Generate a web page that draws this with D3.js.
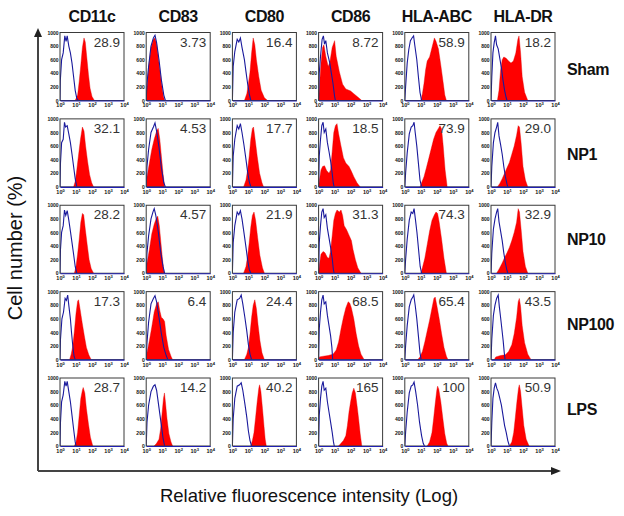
<!DOCTYPE html>
<html><head><meta charset="utf-8">
<script src="https://cdn.jsdelivr.net/npm/d3@7/dist/d3.min.js"></script>
<style>
body{margin:0;background:#fff;}
svg{display:block;font-family:"Liberation Sans",Arial,sans-serif;}
</style></head>
<body><svg id="c" width="624" height="516"></svg>
<script>
const markers = ["CD11c","CD83","CD80","CD86","HLA-ABC","HLA-DR"];
const groups = ["Sham","NP1","NP10","NP100","LPS"];
const mfiLabels = [
  ["28.9","3.73","16.4","8.72","58.9","18.2"],
  ["32.1","4.53","17.7","18.5","73.9","29.0"],
  ["28.2","4.57","21.9","31.3","74.3","32.9"],
  ["17.3","6.4","24.4","68.5","65.4","43.5"],
  ["28.7","14.2","40.2","165","100","50.9"]
];
const xTicks = [0,1,2,3,4];
const yTicks = [0,200,400,600,800,1000];

// histograms: [log10 decade, cell count]
const controlSham = [
 [[0,0],[0.02,300],[0.1,600],[0.2,700],[0.3,950],[0.38,870],[0.45,950],[0.55,800],[0.65,700],[0.75,550],[0.85,350],[0.95,150],[1.05,30],[1.15,0]],
 [[0,0],[0.05,250],[0.15,500],[0.3,800],[0.45,920],[0.55,960],[0.65,850],[0.8,600],[0.95,300],[1.1,80],[1.2,0]],
 [[0,0],[0.05,500],[0.15,720],[0.3,900],[0.4,860],[0.5,920],[0.6,780],[0.75,600],[0.85,420],[0.95,250],[1.05,100],[1.15,0]],
 [[0,0],[0.04,400],[0.12,650],[0.22,900],[0.3,950],[0.37,830],[0.45,880],[0.55,700],[0.7,550],[0.8,400],[0.9,250],[1.0,60],[1.05,0]],
 [[0,0],[0.05,200],[0.15,550],[0.25,750],[0.35,880],[0.45,920],[0.55,950],[0.62,820],[0.75,600],[0.85,350],[0.95,120],[1.05,0]],
 [[0,0],[0.05,350],[0.12,700],[0.2,850],[0.28,950],[0.35,820],[0.45,760],[0.55,620],[0.65,480],[0.75,300],[0.85,150],[0.95,40],[1.0,0]]
];
const stainedSham = [
 [[0.95,0],[1.1,80],[1.2,280],[1.3,520],[1.4,780],[1.5,920],[1.58,860],[1.68,620],[1.78,380],[1.88,180],[2.0,60],[2.15,0]],
 [[0,0],[0.05,200],[0.15,480],[0.3,780],[0.45,900],[0.55,920],[0.65,830],[0.8,560],[0.95,260],[1.08,60],[1.15,0]],
 [[0.75,0],[0.9,100],[1.0,250],[1.1,420],[1.2,700],[1.3,920],[1.4,820],[1.5,600],[1.65,350],[1.8,150],[2.0,40],[2.2,0]],
 [[0,0],[0.05,200],[0.15,550],[0.25,780],[0.33,820],[0.45,650],[0.6,500],[0.7,560],[0.85,780],[1.0,880],[1.1,650],[1.3,420],[1.5,240],[1.7,170],[2.0,140],[2.2,100],[2.45,50],[2.7,0]],
 [[1.0,0],[1.1,100],[1.2,250],[1.3,450],[1.4,580],[1.55,640],[1.7,780],[1.85,920],[1.95,870],[2.1,760],[2.25,520],[2.4,260],[2.5,80],[2.6,0]],
 [[0.4,0],[0.5,150],[0.6,450],[0.7,600],[0.8,640],[0.95,620],[1.1,580],[1.25,550],[1.4,580],[1.55,700],[1.68,900],[1.75,950],[1.85,700],[1.95,350],[2.1,120],[2.3,0]]
];
const controlNP1 = [
 [[0,0],[0.03,350],[0.1,650],[0.2,700],[0.28,950],[0.35,880],[0.45,900],[0.55,780],[0.65,650],[0.75,480],[0.85,300],[0.95,120],[1.05,0]],
 [[0,0],[0.05,300],[0.15,550],[0.3,800],[0.45,880],[0.55,940],[0.65,820],[0.8,580],[0.95,280],[1.1,60],[1.2,0]],
 [[0,0],[0.05,450],[0.15,700],[0.3,900],[0.4,850],[0.5,930],[0.6,800],[0.72,620],[0.85,400],[0.95,220],[1.05,80],[1.15,0]],
 [[0,0],[0.04,450],[0.12,700],[0.2,900],[0.28,950],[0.35,800],[0.45,850],[0.55,650],[0.65,520],[0.75,380],[0.85,200],[0.92,50],[0.97,0]],
 [[0,0],[0.05,200],[0.15,500],[0.28,780],[0.4,880],[0.5,900],[0.58,950],[0.65,800],[0.75,600],[0.85,350],[0.95,100],[1.05,0]],
 [[0,0],[0.05,300],[0.15,650],[0.25,800],[0.35,880],[0.42,950],[0.5,750],[0.6,620],[0.7,480],[0.8,300],[0.9,150],[1.0,40],[1.05,0]]
];
const stainedNP1 = [
 [[0.85,0],[0.95,80],[1.05,250],[1.15,450],[1.28,700],[1.4,880],[1.5,820],[1.6,600],[1.72,380],[1.85,180],[1.98,60],[2.1,0]],
 [[0,0],[0.05,150],[0.2,350],[0.35,550],[0.5,700],[0.65,820],[0.75,860],[0.85,700],[0.95,450],[1.05,200],[1.15,0]],
 [[0.7,0],[0.85,100],[0.95,250],[1.05,450],[1.15,700],[1.25,860],[1.32,880],[1.42,700],[1.55,450],[1.7,200],[1.85,60],[1.95,0]],
 [[0,0],[0.05,100],[0.15,250],[0.25,300],[0.37,310],[0.5,240],[0.65,200],[0.75,250],[0.85,520],[0.95,800],[1.05,900],[1.15,930],[1.25,780],[1.4,600],[1.55,430],[1.7,350],[1.9,300],[2.05,230],[2.2,150],[2.4,60],[2.6,0]],
 [[0.95,0],[1.05,60],[1.2,150],[1.35,280],[1.5,420],[1.65,560],[1.8,700],[1.95,800],[2.1,860],[2.2,900],[2.3,850],[2.4,600],[2.52,250],[2.65,0]],
 [[0.4,0],[0.55,50],[0.7,120],[0.85,200],[1.0,280],[1.15,360],[1.3,480],[1.45,600],[1.6,760],[1.7,900],[1.78,880],[1.88,650],[2.0,300],[2.15,100],[2.3,0]]
];
const controlNP10 = [
 [[0,0],[0.03,350],[0.1,600],[0.2,700],[0.28,930],[0.36,850],[0.45,920],[0.55,780],[0.65,620],[0.75,450],[0.85,280],[0.95,100],[1.05,0]],
 [[0,0],[0.05,300],[0.15,550],[0.3,800],[0.42,900],[0.5,950],[0.6,850],[0.75,620],[0.9,320],[1.05,100],[1.15,0]],
 [[0,0],[0.05,450],[0.15,700],[0.3,900],[0.4,860],[0.5,920],[0.6,800],[0.72,600],[0.85,380],[0.95,200],[1.05,60],[1.15,0]],
 [[0,0],[0.04,450],[0.12,700],[0.2,900],[0.28,950],[0.35,820],[0.45,860],[0.55,660],[0.65,520],[0.75,380],[0.85,220],[0.92,60],[0.97,0]],
 [[0,0],[0.05,200],[0.15,500],[0.28,780],[0.4,900],[0.5,880],[0.58,950],[0.66,800],[0.76,600],[0.86,350],[0.96,100],[1.05,0]],
 [[0,0],[0.05,300],[0.15,650],[0.25,800],[0.35,900],[0.42,950],[0.5,760],[0.6,620],[0.7,480],[0.8,300],[0.9,150],[1.0,40],[1.05,0]]
];
const stainedNP10 = [
 [[0.9,0],[1.0,100],[1.1,280],[1.2,500],[1.3,750],[1.4,880],[1.48,860],[1.58,650],[1.7,420],[1.82,200],[1.95,70],[2.1,0]],
 [[0,0],[0.05,150],[0.2,350],[0.35,580],[0.5,720],[0.62,800],[0.72,840],[0.82,700],[0.92,450],[1.02,200],[1.12,0]],
 [[0.7,0],[0.85,100],[0.95,250],[1.05,450],[1.15,680],[1.25,850],[1.35,900],[1.45,780],[1.58,520],[1.72,260],[1.88,80],[2.0,0]],
 [[0,0],[0.05,120],[0.15,280],[0.28,320],[0.4,300],[0.55,230],[0.65,220],[0.75,330],[0.85,550],[0.95,780],[1.05,880],[1.15,930],[1.3,900],[1.4,930],[1.5,850],[1.6,700],[1.75,640],[1.9,560],[2.05,480],[2.15,350],[2.3,200],[2.45,80],[2.65,0]],
 [[1.0,0],[1.1,80],[1.25,220],[1.4,420],[1.55,620],[1.7,780],[1.85,860],[1.95,900],[2.05,880],[2.15,750],[2.3,500],[2.45,220],[2.6,0]],
 [[0.35,0],[0.5,60],[0.7,150],[0.85,230],[1.0,300],[1.15,380],[1.3,480],[1.45,600],[1.6,750],[1.7,950],[1.78,900],[1.88,650],[2.0,320],[2.15,100],[2.3,0]]
];
const controlNP100 = [
 [[0,0],[0.03,300],[0.12,600],[0.22,700],[0.32,900],[0.4,870],[0.48,950],[0.56,780],[0.65,600],[0.72,400],[0.8,200],[0.88,50],[0.95,0]],
 [[0,0],[0.05,250],[0.15,550],[0.3,820],[0.45,900],[0.55,940],[0.65,850],[0.8,620],[0.95,380],[1.1,180],[1.25,60],[1.35,0]],
 [[0,0],[0.05,400],[0.15,700],[0.3,880],[0.45,900],[0.55,950],[0.65,820],[0.78,620],[0.9,420],[1.0,220],[1.1,80],[1.2,0]],
 [[0,0],[0.04,450],[0.12,700],[0.2,880],[0.28,950],[0.35,820],[0.45,850],[0.55,650],[0.65,500],[0.75,350],[0.83,180],[0.88,0]],
 [[0,0],[0.05,200],[0.15,500],[0.28,780],[0.4,880],[0.5,920],[0.56,950],[0.65,800],[0.75,600],[0.85,350],[0.95,100],[1.02,0]],
 [[0,0],[0.05,300],[0.15,650],[0.25,800],[0.35,900],[0.45,950],[0.52,780],[0.6,620],[0.68,450],[0.76,280],[0.83,100],[0.88,0]]
];
const stainedNP100 = [
 [[0.6,0],[0.7,80],[0.8,200],[0.9,420],[1.0,680],[1.1,860],[1.16,880],[1.25,750],[1.38,550],[1.52,350],[1.65,180],[1.8,70],[1.95,0]],
 [[0,0],[0.05,100],[0.2,280],[0.35,480],[0.5,700],[0.65,820],[0.75,850],[0.85,720],[0.95,620],[1.05,600],[1.15,560],[1.25,350],[1.4,150],[1.55,50],[1.65,0]],
 [[0.75,0],[0.9,80],[1.0,180],[1.1,380],[1.2,620],[1.3,800],[1.4,880],[1.5,750],[1.6,520],[1.72,280],[1.85,100],[2.0,0]],
 [[0,0],[0.05,40],[0.3,50],[0.6,60],[0.9,80],[1.1,140],[1.25,260],[1.4,450],[1.55,620],[1.7,760],[1.85,850],[1.95,830],[2.05,760],[2.2,600],[2.35,380],[2.5,200],[2.65,80],[2.85,0]],
 [[0.8,0],[0.95,40],[1.1,120],[1.25,260],[1.4,420],[1.55,580],[1.7,760],[1.82,900],[1.9,920],[2.0,800],[2.15,600],[2.3,380],[2.45,180],[2.6,50],[2.7,0]],
 [[0.2,0],[0.3,40],[0.6,60],[0.9,70],[1.1,120],[1.3,220],[1.45,380],[1.6,620],[1.7,850],[1.77,900],[1.85,780],[1.95,500],[2.1,250],[2.3,80],[2.5,0]]
];
const controlLPS = [
 [[0,0],[0.03,350],[0.1,650],[0.2,750],[0.3,950],[0.38,880],[0.45,950],[0.55,800],[0.65,650],[0.75,450],[0.85,250],[0.95,60],[1.0,0]],
 [[0,0],[0.05,350],[0.15,600],[0.3,800],[0.45,880],[0.55,900],[0.65,820],[0.8,560],[0.95,300],[1.05,120],[1.15,0]],
 [[0,0],[0.05,400],[0.15,700],[0.3,880],[0.45,900],[0.55,930],[0.65,820],[0.78,620],[0.9,420],[1.0,220],[1.1,80],[1.2,0]],
 [[0,0],[0.04,450],[0.12,700],[0.2,880],[0.28,950],[0.35,820],[0.45,850],[0.55,650],[0.65,500],[0.75,350],[0.85,200],[0.93,60],[0.98,0]],
 [[0,0],[0.05,200],[0.15,500],[0.28,780],[0.4,880],[0.5,900],[0.58,940],[0.68,800],[0.8,600],[0.92,350],[1.05,150],[1.15,40],[1.23,0]],
 [[0,0],[0.05,350],[0.12,700],[0.2,850],[0.28,930],[0.36,850],[0.45,800],[0.55,700],[0.65,600],[0.75,450],[0.85,300],[0.95,200],[1.05,80],[1.15,0]]
];
const stainedLPS = [
 [[0.9,0],[1.0,60],[1.1,200],[1.2,450],[1.3,700],[1.4,820],[1.45,860],[1.55,780],[1.65,550],[1.78,320],[1.9,130],[2.05,0]],
 [[0.5,0],[0.65,40],[0.8,100],[0.9,250],[1.0,500],[1.08,700],[1.14,780],[1.2,650],[1.3,400],[1.42,180],[1.55,60],[1.65,0]],
 [[1.15,0],[1.25,80],[1.35,200],[1.45,420],[1.55,650],[1.65,850],[1.7,900],[1.78,800],[1.88,550],[1.98,280],[2.05,100],[2.12,0]],
 [[1.25,0],[1.4,40],[1.55,80],[1.7,150],[1.8,300],[1.9,500],[2.0,650],[2.1,780],[2.2,850],[2.3,780],[2.4,600],[2.5,400],[2.6,180],[2.7,0]],
 [[1.4,0],[1.55,60],[1.7,200],[1.8,400],[1.9,620],[2.0,820],[2.05,880],[2.12,840],[2.25,650],[2.38,400],[2.5,180],[2.62,40],[2.7,0]],
 [[1.15,0],[1.3,60],[1.42,200],[1.52,420],[1.62,650],[1.72,850],[1.77,900],[1.85,800],[1.95,550],[2.05,300],[2.2,100],[2.38,0]]
];
const controls = [controlSham, controlNP1, controlNP10, controlNP100, controlLPS];
const stained = [stainedSham, stainedNP1, stainedNP10, stainedNP100, stainedLPS];

const svg = d3.select("#c");
const PW = 64, PH = 68;
const colX = d3.scaleLinear().domain([0,5]).range([60, 491]);
const rowY = d3.scaleLinear().domain([0,4]).range([32.5, 378]);
const x = d3.scaleLinear().domain([0,4]).range([0, PW]);
const y = d3.scaleLinear().domain([0,1000]).range([PH, 0]);

const area = d3.area().x(d=>x(d[0])).y0(PH).y1(d=>y(d[1])).curve(d3.curveLinear);
const line = d3.line().x(d=>x(d[0])).y(d=>y(d[1])).curve(d3.curveLinear);

// column headers
svg.selectAll("text.hdr").data(markers).join("text")
  .attr("class","hdr")
  .attr("x",(d,i)=>colX(i)+PW/2).attr("y",22)
  .attr("text-anchor","middle").attr("font-size",16).attr("font-weight","bold")
  .attr("letter-spacing",-0.4).attr("fill","#111").text(d=>d);

// row labels
svg.selectAll("text.row").data(groups).join("text")
  .attr("class","row")
  .attr("x",567).attr("y",(d,j)=>75+j*85)
  .attr("font-size",16).attr("font-weight","bold").attr("letter-spacing",-0.4)
  .attr("fill","#111").text(d=>d);

const defs = svg.append("defs");
defs.append("clipPath").attr("id","pclip").append("rect").attr("width",PW).attr("height",PH);

groups.forEach((g,j)=>{
  markers.forEach((m,i)=>{
    const p = svg.append("g").attr("transform",`translate(${colX(i)},${rowY(j)})`);
    p.append("rect").attr("width",PW).attr("height",PH).attr("fill","#fff");
    const inner = p.append("g").attr("clip-path","url(#pclip)");
    inner.append("path").datum(stained[j][i]).attr("d",area).attr("fill","#ff0000").attr("stroke","#e00000").attr("stroke-width",0.4);
    inner.append("path").datum(controls[j][i]).attr("d",line).attr("fill","none").attr("stroke","#1a1a9c").attr("stroke-width",1.1);
    p.append("rect").attr("width",PW).attr("height",PH).attr("fill","none").attr("stroke","#3a3a3a").attr("stroke-width",1);
    const xa = p.append("g").attr("transform",`translate(0,${PH})`)
      .call(d3.axisBottom(x).tickValues(xTicks).tickSize(0).tickPadding(3).tickFormat(()=>""));
    xa.select(".domain").attr("stroke","#2020b0").attr("stroke-width",1.2);
    xa.selectAll(".tick text").each(function(d){
      const t = d3.select(this).attr("font-size",5.5).attr("font-weight","bold").attr("fill","#111")
        .attr("font-family","Liberation Sans, Arial, sans-serif");
      t.append("tspan").text("10");
      t.append("tspan").attr("dy",-2).attr("font-size",4).text(d);
    });
    const ya = p.append("g")
      .call(d3.axisLeft(y).tickValues(yTicks).tickSize(0).tickPadding(1.5).tickFormat(d3.format("d")));
    ya.select(".domain").remove();
    ya.selectAll(".tick text").attr("font-size",5).attr("font-weight","bold").attr("fill","#111")
      .attr("font-family","Liberation Sans, Arial, sans-serif");
    p.append("text").attr("x",PW-4).attr("y",14).attr("text-anchor","end")
      .attr("font-size",13.5).attr("fill","#333").text(mfiLabels[j][i]);
  });
});

// big axes
const ax = svg.append("g").attr("stroke","#444").attr("stroke-width",2).attr("fill","none");
ax.append("line").attr("x1",38).attr("y1",36).attr("x2",38).attr("y2",471);
ax.append("line").attr("x1",38).attr("y1",471).attr("x2",552).attr("y2",471);
svg.append("path").attr("d","M38,28 L34,37 L42,37 Z").attr("fill","#222");
svg.append("path").attr("d","M561,471 L551,467 L551,475 Z").attr("fill","#222");

svg.append("text").attr("x",309).attr("y",502).attr("text-anchor","middle")
  .attr("font-size",18.5).attr("fill","#111").text("Relative fluorescence intensity (Log)");
svg.append("text").attr("transform","translate(22,248) rotate(-90)").attr("text-anchor","middle")
  .attr("font-size",20).attr("fill","#111").text("Cell number (%)");
</script></body></html>
